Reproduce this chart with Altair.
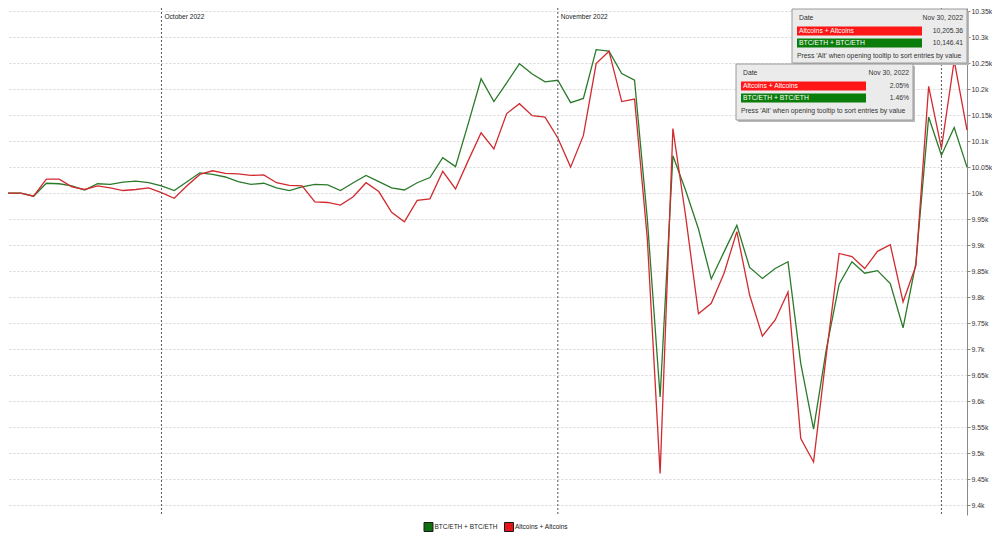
import altair as alt
import pandas as pd

start_date = "2022-09-19"
n_days = 76
series_names = ["BTC/ETH + BTC/ETH", "Altcoins + Altcoins"]

btc_eth = [10000, 10000, 9994, 10019, 10018, 10014, 10006, 10018, 10017, 10021,
           10023, 10020, 10014, 10005, 10022, 10039, 10036, 10031, 10022, 10017,
           10019, 10010, 10005, 10012, 10017, 10016, 10005, 10020, 10034, 10022,
           10010, 10006, 10020, 10030, 10068, 10051, 10134, 10220, 10176, 10212,
           10249, 10229, 10214, 10217, 10174, 10182, 10276, 10273, 10230, 10217,
           9950, 9608, 10072, 10005, 9931, 9835, 9887, 9938, 9857, 9836,
           9855, 9868, 9672, 9546, 9700, 9825, 9868, 9846, 9851, 9826,
           9741, 9865, 10146.41, 10073, 10126, 10050]

altcoins = [10000, 10000, 9994, 10027, 10027, 10012, 10007, 10014, 10010, 10005,
            10007, 10010, 10001, 9990, 10014, 10036, 10043, 10038, 10037, 10034,
            10035, 10020, 10015, 10014, 9983, 9982, 9977, 9993, 10020, 10003,
            9963, 9945, 9986, 9989, 10042, 10008, 10063, 10116, 10085, 10153,
            10172, 10149, 10146, 10106, 10050, 10111, 10249, 10273, 10176, 10181,
            9912, 9461, 10124, 9955, 9768, 9788, 9846, 9926, 9804, 9725,
            9756, 9810, 9528, 9483, 9690, 9884, 9878, 9855, 9888, 9901,
            9791, 9860, 10205.36, 10086, 10255, 10121]

month_dates = ["2022-10-01", "2022-11-01", "2022-12-01"]
month_labels = ["October 2022", "November 2022", ""]

y_ticks = [9400 + 50 * i for i in range(20)]
y_domain = [9381, 10356]

line_colors = ["#2b7a2b", "#d12a2f"]
legend_colors = ["#0f6e0f", "#e3141b"]

dates = pd.date_range(start_date, periods=n_days, freq="D")
df = pd.DataFrame({
    "date": list(dates.strftime("%Y-%m-%d")) * 2,
    "value": btc_eth + altcoins,
    "series": [series_names[0]] * n_days + [series_names[1]] * n_days,
})
months_df = pd.DataFrame({"date": month_dates, "label": month_labels})

FONT = "Liberation Sans"
x_scale = alt.Scale(domain=[dates[0].strftime("%Y-%m-%d"), dates[-1].strftime("%Y-%m-%d")], nice=False)
y_scale = alt.Scale(domain=y_domain, nice=False, zero=False)

lines = alt.Chart(df).mark_line(strokeWidth=1.3).encode(
    x=alt.X("date:T", scale=x_scale, axis=None),
    y=alt.Y("value:Q", scale=y_scale, axis=alt.Axis(
        orient="right", values=y_ticks, format=".4~s", title=None,
        grid=True, gridDash=[2, 2], gridColor="#d6d6d6", gridWidth=1,
        domainColor="#8a8a8a", tickColor="#8a8a8a", tickSize=3,
        labelColor="#333333", labelFontSize=6.9, labelFont=FONT, labelPadding=1,
        labelOverlap=False, labelBound=False, labelFlush=False)),
    color=alt.Color("series:N", scale=alt.Scale(domain=series_names, range=line_colors), legend=None),
    detail="series:N",
)

rules = alt.Chart(months_df).mark_rule(color="#555555", strokeDash=[2, 2], strokeWidth=1).encode(
    x=alt.X("date:T", scale=x_scale, axis=None),
)
month_text = alt.Chart(months_df).mark_text(
    align="left", baseline="middle", dx=3, font=FONT, fontSize=6.6, color="#222222"
).encode(
    x=alt.X("date:T", scale=x_scale, axis=None),
    y=alt.value(9),
    text="label:N",
)


def box(x1, y1, x2, y2, fill, stroke=None):
    kw = dict(fill=fill)
    if stroke:
        kw.update(stroke=stroke, strokeWidth=1)
    return alt.Chart(pd.DataFrame({"k": [0]})).mark_rect(**kw).encode(
        x=alt.value(x1), x2=alt.value(x2), y=alt.value(y1), y2=alt.value(y2))


def label(text, x, y, align="left", color="#333333", size=6.8):
    return alt.Chart(pd.DataFrame({"t": [text]})).mark_text(
        align=align, baseline="middle", font=FONT, fontSize=size, color=color
    ).encode(x=alt.value(x), y=alt.value(y), text="t:N")


def tooltip(x0, y0, x1, y1, date_text, v_alt, v_btc):
    return [
        box(x0 + 2, y0 + 2, x1 + 2, y1 + 2, "#b8b8b8"),
        box(x0, y0, x1, y1, "#ebebeb", "#9a9a9a"),
        label("Date", x0 + 7, y0 + 9),
        label(date_text, x1 - 4, y0 + 9, align="right"),
        box(x0 + 5, y0 + 17.5, x0 + 130, y0 + 26.5, "#ff1616"),
        label(series_names[1], x0 + 7, y0 + 22, color="#ffffff"),
        label(v_alt, x1 - 4, y0 + 22, align="right"),
        box(x0 + 5, y0 + 29.5, x0 + 130, y0 + 38.5, "#0b7d0b"),
        label(series_names[0], x0 + 7, y0 + 34, color="#ffffff"),
        label(v_btc, x1 - 4, y0 + 34, align="right"),
        label("Press 'Alt' when opening tooltip to sort entries by value", x0 + 5, y0 + 46.5),
    ]


def legend_item(x0, y_mid, name, fill):
    return [
        box(x0, y_mid - 4.5, x0 + 9, y_mid + 4.5, fill, "#1a1a1a"),
        label(name, x0 + 10.5, y_mid, color="#222222", size=6.5),
    ]


tip1 = tooltip(784, 1, 959, 55, "Nov 30, 2022", "10,205.36", "10,146.41")
tip2 = tooltip(728, 56, 905, 112, "Nov 30, 2022", "2.05%", "1.46%")
leg = legend_item(416, 519, series_names[0], legend_colors[0]) + \
      legend_item(496.5, 519, series_names[1], legend_colors[1])

chart = alt.layer(lines, rules, month_text, *tip1, *tip2, *leg).properties(
    width=959, height=507,
    padding={"left": 0, "top": 0, "right": 25, "bottom": 18},
    autosize=alt.AutoSizeParams(type="none"),
).configure(font=FONT, background="#ffffff").configure_view(strokeWidth=0)

chart.save("out.html", embed_options={"renderer": "svg", "actions": False})
